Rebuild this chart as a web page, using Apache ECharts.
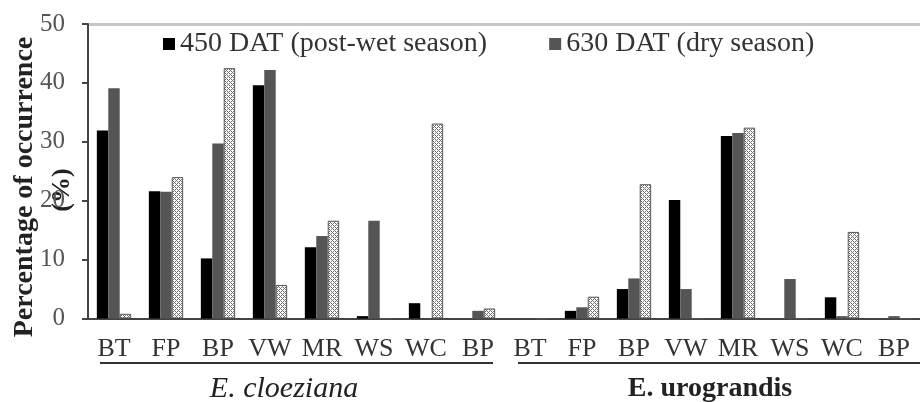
<!DOCTYPE html>
<html><head><meta charset="utf-8">
<script src="https://cdn.jsdelivr.net/npm/echarts@6/dist/echarts.min.js"></script>
<style>html,body{margin:0;padding:0;background:#fff}#c{width:920px;height:402px}</style>
</head><body><div id="c"></div>
<script>
const categories = ['BT','FP','BP','VW','MR','WS','WC','BP','BT','FP','BP','VW','MR','WS','WC','BP'];
const groups = ['E. cloeziana', 'E. urograndis'];
const seriesNames = ['450 DAT (post-wet season)', '630 DAT (dry season)', '810 DAT'];
const dat450 = [31.9, 21.6, 10.2, 39.6, 12.1, 0.4, 2.6, 0, 0, 1.3, 5.0, 20.1, 31.0, 0, 3.6, 0];
const dat630 = [39.1, 21.5, 29.7, 42.2, 14.0, 16.6, 0, 1.3, 0, 1.9, 6.8, 5.0, 31.5, 6.7, 0.4, 0.4];
const dat3rd = [0.8, 24.0, 42.5, 5.7, 16.6, 0, 33.1, 1.7, 0, 3.7, 22.8, 0, 32.4, 0, 14.7, 0];
const yTicks = [0, 10, 20, 30, 40, 50];

const SERIF = "'Liberation Serif', 'DejaVu Serif', serif";

// cross-hatch pattern
const pc = document.createElement('canvas');
pc.width = 4; pc.height = 4;
const g = pc.getContext('2d');
g.fillStyle = '#fff'; g.fillRect(0, 0, 4, 4);
g.fillStyle = '#707070';
for (let y = 0; y < 4; y++) for (let x = 0; x < 4; x++) {
  if ((x + y) % 4 === 0 || (x - y + 4) % 4 === 0) g.fillRect(x, y, 1, 1);
}

const chart = echarts.init(document.getElementById('c'), null, {renderer: 'canvas'});
chart.setOption({
  animation: false,
  backgroundColor: '#fff',
  grid: {left: 88, right: -4, top: 24, bottom: 83.5, containLabel: false},
  legend: {
    data: [seriesNames[0], seriesNames[1]],
    left: 163, top: 30, padding: 0,
    itemWidth: 12, itemHeight: 12, itemGap: 62,
    icon: 'rect',
    textStyle: {fontFamily: SERIF, fontSize: 28, color: '#333'}
  },
  xAxis: {
    type: 'category',
    data: categories,
    axisLine: {lineStyle: {color: '#444', width: 2}},
    axisTick: {show: false},
    axisLabel: {fontFamily: SERIF, fontSize: 26, color: '#333', margin: 18, interval: 0}
  },
  yAxis: {
    type: 'value', min: yTicks[0], max: yTicks[yTicks.length - 1], interval: 10,
    axisLine: {show: true, lineStyle: {color: '#444', width: 2}},
    axisTick: {show: true, length: 6, lineStyle: {color: '#444', width: 2}},
    axisLabel: {fontFamily: SERIF, fontSize: 25, color: '#555', margin: 23},
    splitLine: {show: true, lineStyle: {color: ['rgba(0,0,0,0)','rgba(0,0,0,0)','rgba(0,0,0,0)','rgba(0,0,0,0)','rgba(0,0,0,0)','#c8c8c8'], width: 3}}
  },
  series: [
    {name: seriesNames[0], type: 'bar', data: dat450, barGap: '0%', barCategoryGap: '34%',
     itemStyle: {color: '#000'}},
    {name: seriesNames[1], type: 'bar', data: dat630, barGap: '0%', barCategoryGap: '34%',
     itemStyle: {color: '#555'}},
    {name: seriesNames[2], type: 'bar', data: dat3rd, barGap: '0%', barCategoryGap: '34%',
     itemStyle: {color: {image: pc, repeat: 'repeat'}, borderColor: '#555', borderWidth: 1}}
  ],
  graphic: [
    {type: 'text', x: 25, y: 187, rotation: Math.PI / 2,
     style: {text: 'Percentage of occurrence', font: "bold 28px " + SERIF, fill: '#222', align: 'center', verticalAlign: 'middle'}},
    {type: 'text', x: 62, y: 190, rotation: Math.PI / 2,
     style: {text: '(%)', font: "bold 26px " + SERIF, fill: '#222', align: 'center', verticalAlign: 'middle'}},
    {type: 'line', shape: {x1: 100, y1: 363, x2: 493, y2: 363}, style: {stroke: '#333', lineWidth: 2}},
    {type: 'line', shape: {x1: 518, y1: 363, x2: 920, y2: 363}, style: {stroke: '#333', lineWidth: 2}},
    {type: 'text', x: 284, y: 389,
     style: {text: groups[0], font: "italic 30px " + SERIF, fill: '#222', align: 'center', verticalAlign: 'middle'}},
    {type: 'text', x: 710, y: 389,
     style: {text: groups[1], font: "bold 28px " + SERIF, fill: '#222', align: 'center', verticalAlign: 'middle'}}
  ]
});
</script>
</body></html>
